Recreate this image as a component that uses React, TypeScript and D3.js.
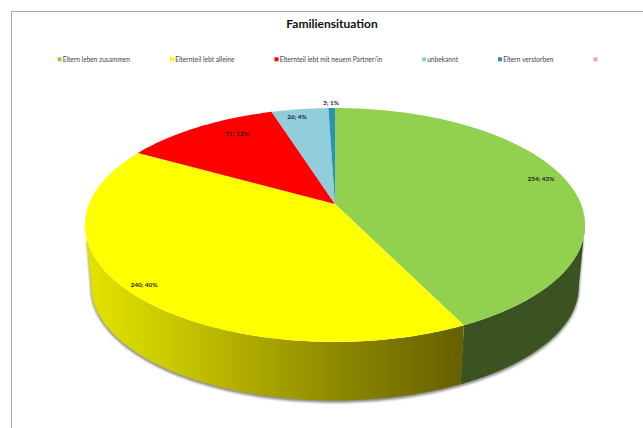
import React from 'react';
import * as d3 from 'd3';

const categories = [
  'Eltern leben zusammen',
  'Elternteil lebt alleine',
  'Elternteil lebt mit neuem Partner/in',
  'unbekannt',
  'Eltern verstorben',
  '',
];
const values = [254, 240, 71, 26, 3, 0];
const percents = ['43%', '40%', '12%', '4%', '1%', ''];
const colors = ['#92d050', '#ffff00', '#ff0000', '#92cddc', '#2a93b5', '#eda6a6'];
const legendX = [57.5, 170, 274.5, 422, 498, 593.5];
const labelPos: [number, number][] = [
  [541, 179],
  [144, 285],
  [237, 134],
  [297, 117],
  [331, 103],
];

const width = 643;
const height = 428;
const cx = 335;
const cy = 204;

// circle -> screen, with the perspective of the 3d pie
const persp = 0.1795;
const rimX = 246;
const rimY = 113.2;
const project = (a: number, scale = 1, dy = 0): [number, number] => {
  const u = Math.sin(a);
  const v = -Math.cos(a);
  const w = 1 - persp * v;
  return [cx + (rimX * scale * u) / w, cy + dy + (rimY * scale * v) / w];
};

const depth = 62;
const bottomScale = 0.975;

const arcPoints = (a0: number, a1: number, scale = 1, dy = 0) =>
  d3.range(0, 81).map((i) => project(a0 + ((a1 - a0) * i) / 80, scale, dy));

const line = d3.line();

const arcs = d3
  .pie<number>()
  .sort(null)
  .startAngle(0)
  .endAngle(2 * Math.PI)(values);

// the side wall is only seen between the two silhouette angles
const wallStart = (100 * Math.PI) / 180;
const wallEnd = (260 * Math.PI) / 180;

export default function App() {
  const walls = arcs
    .map((d, i) => ({
      i,
      a0: Math.max(d.startAngle, wallStart),
      a1: Math.min(d.endAngle, wallEnd),
    }))
    .filter((d) => d.a1 > d.a0);

  // shadow starts a bit below the rim so it only shows around the wall
  const shadow = [
    ...arcPoints(wallStart, wallEnd, 0.99, 16),
    ...arcPoints(wallEnd, wallStart, bottomScale, depth),
  ];

  return (
    <svg
      width={width}
      height={height}
      viewBox={`0 0 ${width} ${height}`}
      style={{ position: 'absolute', left: 0, top: 0, background: '#fff' }}
      fontFamily="Lato, Carlito, sans-serif"
    >
      <defs>
        <linearGradient id="wallYellow" gradientUnits="userSpaceOnUse" x1={88} x2={462} y1={0} y2={0}>
          <stop offset="0" stopColor="#e2e200" />
          <stop offset="0.2" stopColor="#cccc00" />
          <stop offset="0.46" stopColor="#aaa600" />
          <stop offset="0.73" stopColor="#858000" />
          <stop offset="1" stopColor="#666000" />
        </linearGradient>
        <filter id="soft" x="-10%" y="-10%" width="120%" height="120%">
          <feGaussianBlur stdDeviation="1.2" />
        </filter>
      </defs>

      <path d={`M11.5,${height}V11.5H${width}`} fill="none" stroke="#a8a8a8" strokeWidth={1} />

      <text x={332} y={28} textAnchor="middle" fontSize={12} fontWeight={700} fill="#111">
        Familiensituation
      </text>

      {categories.map((c, i) => (
        <g key={i}>
          <rect x={legendX[i]} y={57.3} width={4} height={4} fill={colors[i]} />
          <text x={legendX[i] + 5.2} y={61.5} fontSize={6.6} fill="#444">
            {c}
          </text>
        </g>
      ))}

      <path
        d={line(shadow) + 'Z'}
        transform="translate(0,1.5)"
        fill="#8f8f8f"
        stroke="#8f8f8f"
        strokeWidth={1.5}
        filter="url(#soft)"
      />

      {walls.map((d) => (
        <path
          key={d.i}
          d={
            line([
              ...arcPoints(d.a0, d.a1, 1, 0),
              ...arcPoints(d.a1, d.a0, bottomScale, depth),
            ]) + 'Z'
          }
          fill={d.i === 0 ? '#3b5320' : d.i === 1 ? 'url(#wallYellow)' : colors[d.i]}
        />
      ))}

      {arcs
        .filter((d) => d.value > 0)
        .map((d) => (
          <path
            key={d.index}
            d={line([[cx, cy], ...arcPoints(d.startAngle, d.endAngle)]) + 'Z'}
            fill={colors[d.index]}
          />
        ))}

      {labelPos.map((p, i) => (
        <text
          key={i}
          x={p[0]}
          y={p[1]}
          textAnchor="middle"
          dominantBaseline="middle"
          fontSize={6.4}
          fontWeight={700}
          fill="#222"
        >
          {`${values[i]}; ${percents[i]}`}
        </text>
      ))}
    </svg>
  );
}
